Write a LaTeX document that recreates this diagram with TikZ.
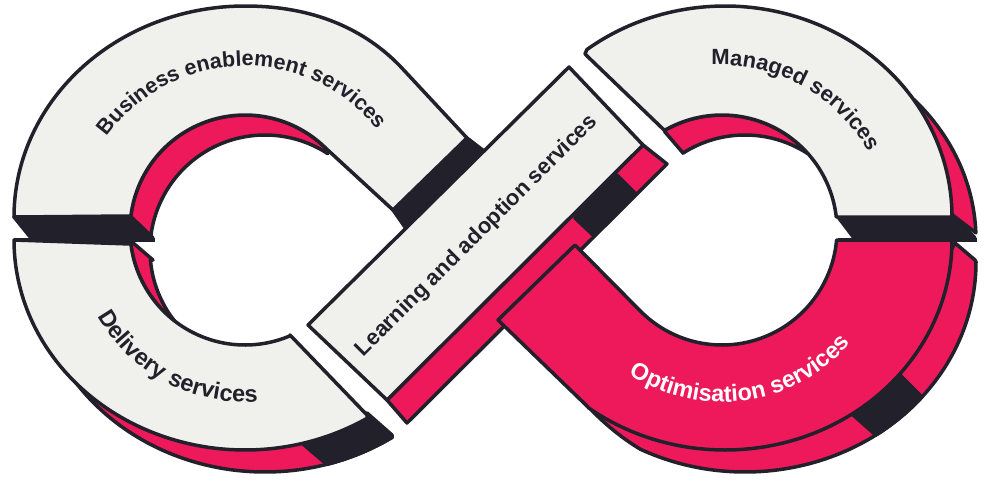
\documentclass[tikz,border=0pt]{standalone}
\usepackage{fontspec}
\setmainfont{Liberation Sans}
\usetikzlibrary{decorations.text}
\definecolor{ink}{HTML}{22202A}
\definecolor{rose}{HTML}{EE195B}
\definecolor{paper}{HTML}{F0F1ED}
\newcommand\arcto[6]{-- plot[domain=#5:#6,samples=90,variable=\t] ({#1+#3*cos(\t)},{#2-#4*sin(\t)})}
\newcommand\ringtext[7]{\path[decorate,decoration={text along path,text align=center,text={|\fontsize{#7}{24}\selectfont\bfseries\color{#6}|#5}}] plot[domain=#3:#4,samples=120,variable=\t] ({#1+170*cos(\t)},{#2-170*sin(\t)});}
\tikzset{
  seg/.style={draw=ink,line width=3.5pt,line join=round},
  grey/.style={seg,fill=paper},
  pink/.style={seg,fill=rose},
  dark/.style={seg,fill=ink},
  lbl/.style={font=\fontsize{22}{24}\selectfont\bfseries,text=ink}
}
\begin{document}
\begin{tikzpicture}[x=1pt,y=-1pt]
\useasboundingbox (0,0) rectangle (990,480);
% Business enablement
\path[pink] (131,217) -- (152,237) \arcto{265}{250}{115}{115}{174}{57} \arcto{245}{230}{115}{115}{45}{173} -- cycle;
\path[dark] (14,217) -- (31,238) -- (153,238) -- (131,217) -- cycle;
\path[dark] (467,138) -- (484,151) -- (407,230) -- (393,210) -- cycle;
\path[grey] (14,217) \arcto{245}{217}{231}{211}{180}{90} .. controls (315,6) and (365,30) .. (400,66) -- (467,138) -- (393,210) \arcto{245}{230}{115}{115}{45}{173} -- cycle;
% Delivery
\path[pink] (132,242) -- (153,260) \arcto{265}{250}{115}{115}{185}{218} \arcto{245}{230}{115}{115}{230}{185} -- cycle;
\path[pink] (200,400) \arcto{265}{262}{231}{210}{215}{303.4} -- (350,400) -- cycle;
\path[dark] (367,413) -- (392,435) \arcto{265}{262}{231}{210}{303.4}{285.5} -- (303,444) -- cycle;
\path[grey] (14,240) \arcto{245}{240}{231}{210}{180}{302} -- (367,415) -- (290,335) \arcto{245}{230}{115}{115}{293}{187} -- cycle;
\draw[seg] (14,240) -- (155,240);
% Learning band
\path[pink] (387,400) -- (407,423) -- (667,164) -- (643,145) -- cycle;
\path[dark] (617,175) -- (635,193) -- (593,235) -- (575,218) -- cycle;
\path[grey] (569,67) -- (643,145) -- (387,400) -- (308,325) -- cycle;
% Managed
\path[pink] (665,132) -- (683,153) \arcto{745}{250}{115}{115}{122.6}{57} \arcto{722}{230}{115}{115}{45}{120} -- cycle;
\path[pink] (880,150) \arcto{745}{240}{231}{206}{43}{2} -- (955,217) -- cycle;
\path[dark] (838,217) -- (854,238) -- (975,238) -- (955,217) -- cycle;
\path[grey] (585,54) \arcto{725}{217}{227}{211}{127.5}{0} -- (838,217) \arcto{722}{230}{115}{115}{6.5}{120} -- cycle;
% Optimisation
\path[pink] (650,400) -- (586,404) .. controls (600,420) and (620,437) .. (640,449) \arcto{745}{262}{231}{210}{243}{360} -- (975,260) -- (955,243) -- (880,380) -- cycle;
\path[dark] (898,373) -- (922,397) \arcto{745}{262}{231}{210}{320}{304.5} -- (852,414) -- cycle;
\path[pink] (498,320) -- (588,407) \arcto{725}{240}{227}{210}{232.9}{360} -- (838,240) \arcto{722}{230}{115}{115}{355}{225} -- (575,245) -- cycle;
\draw[seg] (838,240) -- (977,240);
% Labels
\ringtext{245}{236}{159}{24}{Business enablement services}{ink}{21.5}
\ringtext{720}{235}{139}{-17}{Managed services}{ink}{22}
\ringtext{245}{232}{190}{294}{Delivery services}{ink}{23.5}
\ringtext{722}{232}{220}{336}{Optimisation services}{white}{23.5}
\node[lbl,rotate=45] (learn) at (477,236) {Learning and adoption services};
\end{tikzpicture}
\end{document}
